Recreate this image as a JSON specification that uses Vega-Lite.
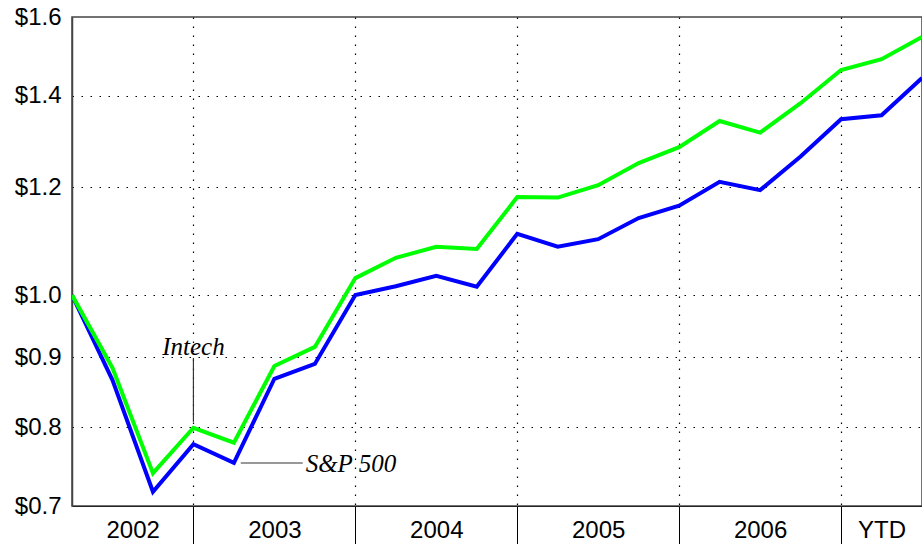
{
  "$schema": "https://vega.github.io/schema/vega-lite/v6.json",
  "width": 850,
  "height": 489,
  "autosize": {"type": "none"},
  "padding": {"left": 72, "top": 17, "right": 0, "bottom": 38},
  "background": "white",
  "config": {
    "view": {"stroke": "#444444", "strokeWidth": 1.5},
    "font": "Liberation Sans"
  },
  "datasets": {
    "series": [
      {"q": 0, "series": "S&P 500", "value": 1.0},
      {"q": 1, "series": "S&P 500", "value": 0.866},
      {"q": 2, "series": "S&P 500", "value": 0.717},
      {"q": 3, "series": "S&P 500", "value": 0.777},
      {"q": 4, "series": "S&P 500", "value": 0.753},
      {"q": 5, "series": "S&P 500", "value": 0.868},
      {"q": 6, "series": "S&P 500", "value": 0.890},
      {"q": 7, "series": "S&P 500", "value": 1.0},
      {"q": 8, "series": "S&P 500", "value": 1.015},
      {"q": 9, "series": "S&P 500", "value": 1.033},
      {"q": 10, "series": "S&P 500", "value": 1.014},
      {"q": 11, "series": "S&P 500", "value": 1.109},
      {"q": 12, "series": "S&P 500", "value": 1.085},
      {"q": 13, "series": "S&P 500", "value": 1.099},
      {"q": 14, "series": "S&P 500", "value": 1.139},
      {"q": 15, "series": "S&P 500", "value": 1.163},
      {"q": 16, "series": "S&P 500", "value": 1.211},
      {"q": 17, "series": "S&P 500", "value": 1.194},
      {"q": 18, "series": "S&P 500", "value": 1.264},
      {"q": 19, "series": "S&P 500", "value": 1.346},
      {"q": 20, "series": "S&P 500", "value": 1.355},
      {"q": 21, "series": "S&P 500", "value": 1.443},
      {"q": 0, "series": "Intech", "value": 1.0},
      {"q": 1, "series": "Intech", "value": 0.884},
      {"q": 2, "series": "Intech", "value": 0.740},
      {"q": 3, "series": "Intech", "value": 0.799},
      {"q": 4, "series": "Intech", "value": 0.779},
      {"q": 5, "series": "Intech", "value": 0.887},
      {"q": 6, "series": "Intech", "value": 0.916},
      {"q": 7, "series": "Intech", "value": 1.029},
      {"q": 8, "series": "Intech", "value": 1.065},
      {"q": 9, "series": "Intech", "value": 1.085},
      {"q": 10, "series": "Intech", "value": 1.081},
      {"q": 11, "series": "Intech", "value": 1.180},
      {"q": 12, "series": "Intech", "value": 1.179},
      {"q": 13, "series": "Intech", "value": 1.204},
      {"q": 14, "series": "Intech", "value": 1.250},
      {"q": 15, "series": "Intech", "value": 1.284},
      {"q": 16, "series": "Intech", "value": 1.342},
      {"q": 17, "series": "Intech", "value": 1.316},
      {"q": 18, "series": "Intech", "value": 1.383},
      {"q": 19, "series": "Intech", "value": 1.463},
      {"q": 20, "series": "Intech", "value": 1.490},
      {"q": 21, "series": "Intech", "value": 1.547}
    ],
    "leaders": [
      {"x1": 3, "x2": 3, "y1": 0.899, "y2": 0.807},
      {"x1": 4.17, "x2": 5.7, "y1": 0.7528, "y2": 0.7528}
    ],
    "notes": [
      {"x": 3.0, "y": 0.9036, "label": "Intech"},
      {"x": 6.89, "y": 0.7414, "label": "S&P 500"}
    ]
  },
  "layer": [
    {
      "data": {"name": "series"},
      "mark": {"type": "line", "strokeWidth": 4, "clip": true},
      "encoding": {
        "x": {
          "field": "q",
          "type": "quantitative",
          "title": null,
          "scale": {"domain": [0, 21], "nice": false, "zero": false},
          "axis": {
            "values": [1.5, 3, 5, 7, 9, 11, 13, 15, 17, 19, 20],
            "labelExpr": "datum.value == 1.5 ? '2002' : datum.value == 5 ? '2003' : datum.value == 9 ? '2004' : datum.value == 13 ? '2005' : datum.value == 17 ? '2006' : datum.value == 20 ? 'YTD' : ''",
            "labelFont": "Liberation Sans",
            "labelFontSize": 24,
            "labelColor": "#000000",
            "labelBaseline": "top",
            "labelPadding": 12,
            "labelFlush": false,
            "labelOverlap": false,
            "domainColor": "#222222",
            "domainWidth": 1.2,
            "ticks": true,
            "tickColor": "#000000",
            "tickWidth": 1,
            "tickSize": {"condition": {"test": "indexof([3,7,11,15,19], datum.value) >= 0", "value": 38}, "value": 0},
            "tickOpacity": {"condition": {"test": "indexof([3,7,11,15,19], datum.value) >= 0", "value": 1}, "value": 0},
            "grid": true,
            "gridColor": "#000000",
            "gridDash": [1.5, 7.5],
            "gridWidth": 1.2,
            "gridOpacity": {"condition": {"test": "indexof([3,7,11,15,19], datum.value) >= 0", "value": 1}, "value": 0}
          }
        },
        "y": {
          "field": "value",
          "type": "quantitative",
          "title": null,
          "scale": {"type": "log", "domain": [0.7, 1.6], "nice": false, "zero": false},
          "axis": {
            "values": [0.7, 0.8, 0.9, 1.0, 1.2, 1.4, 1.6],
            "format": "$.1f",
            "labelFont": "Liberation Sans",
            "labelFontSize": 24,
            "labelColor": "#000000",
            "labelPadding": 11,
            "labelBaseline": "middle",
            "ticks": false,
            "domainColor": "#444444",
            "domainWidth": 1.5,
            "grid": true,
            "gridColor": "#000000",
            "gridDash": [1.5, 7.5],
            "gridWidth": 1.2,
            "gridOpacity": {"condition": {"test": "datum.value < 0.75 || datum.value > 1.55", "value": 0}, "value": 1}
          }
        },
        "color": {
          "field": "series",
          "type": "nominal",
          "scale": {"domain": ["Intech", "S&P 500"], "range": ["#00ff00", "#0000ff"]},
          "legend": null
        }
      }
    },
    {
      "data": {"name": "leaders"},
      "mark": {"type": "rule", "color": "#333333", "strokeWidth": 1.2},
      "encoding": {
        "x": {"field": "x1", "type": "quantitative", "title": null},
        "x2": {"field": "x2"},
        "y": {"field": "y1", "type": "quantitative", "title": null},
        "y2": {"field": "y2"}
      }
    },
    {
      "data": {"name": "notes"},
      "mark": {"type": "text", "font": "Liberation Serif", "fontStyle": "italic", "fontSize": 25, "baseline": "alphabetic", "align": "center", "color": "#000000"},
      "encoding": {
        "x": {"field": "x", "type": "quantitative", "title": null},
        "y": {"field": "y", "type": "quantitative", "title": null},
        "text": {"field": "label", "type": "nominal"}
      }
    }
  ]
}
